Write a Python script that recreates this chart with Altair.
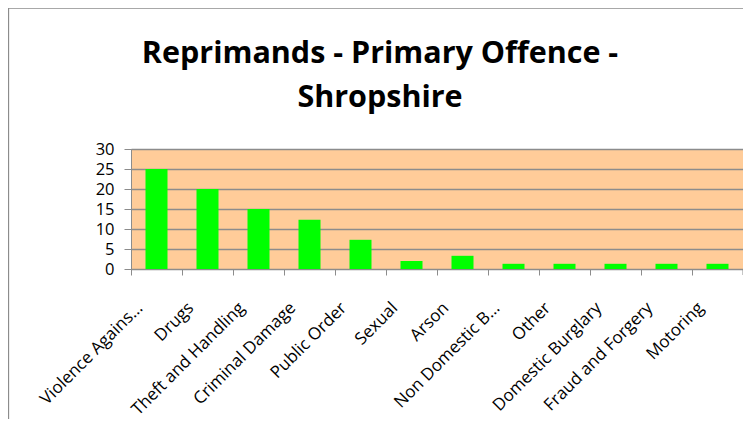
import altair as alt
import pandas as pd

categories = ["Violence Agains…", "Drugs", "Theft and Handling", "Criminal Damage",
              "Public Order", "Sexual", "Arson", "Non Domestic B…", "Other",
              "Domestic Burglary", "Fraud and Forgery", "Motoring"]
values = [25.0, 20.0, 15.0, 12.3, 7.3, 2.0, 3.3, 1.3, 1.3, 1.3, 1.3, 1.3]
y_ticks = [0, 5, 10, 15, 20, 25, 30]
title_lines = ["Reprimands - Primary Offence -", "Shropshire"]

df = pd.DataFrame({"offence": categories, "value": values})
one = pd.DataFrame({"k": [0]})

W, H = 612, 120

bars = alt.Chart(df).mark_bar(color="#00FF00", size=22).encode(
    x=alt.X("offence:N", sort=categories,
            scale=alt.Scale(paddingInner=0, paddingOuter=0),
            axis=alt.Axis(title=None, labelAngle=-45, labelAlign="right",
                          labelBaseline="middle", tickBand="extent",
                          labelPadding=30, labelOffset=-17)),
    y=alt.Y("value:Q", scale=alt.Scale(domain=[0, 30], nice=False),
            axis=alt.Axis(title=None, values=y_ticks, grid=True)),
)

border = alt.Chart(one).mark_rect(fillOpacity=0, stroke="#8c8c8c", strokeWidth=1.5).encode(
    x=alt.value(-122.6), x2=alt.value(W + 200),
    y=alt.value(-141.0), y2=alt.value(H + 300),
)

end_tick = alt.Chart(one).mark_rule(color="#8c8c8c", strokeWidth=1).encode(
    x=alt.value(W), y=alt.value(H), y2=alt.value(H + 6),
)

title = alt.Chart(one).mark_text(
    font="Open Sans", fontSize=30.5, fontWeight="bold", color="#000000",
    align="center", baseline="alphabetic", lineHeight=44,
).encode(
    x=alt.value(249), y=alt.value(-86), text=alt.value(title_lines),
)

chart = alt.layer(bars, border, end_tick, title).properties(
    width=W, height=H,
    autosize=alt.AutoSizeParams(type="none"),
    padding={"left": 123, "top": 141, "right": 0, "bottom": 150},
    background="white",
).configure_view(
    fill="#FFCC99", stroke="#8c8c8c", strokeWidth=1,
).configure_axis(
    domainColor="#8c8c8c", tickColor="#8c8c8c", gridColor="#8c8c8c",
    labelColor="#000000", labelFont="Open Sans",
).configure_axisY(
    gridWidth=1.5, tickSize=7, labelPadding=10, labelFontSize=16.5, domainWidth=1,
).configure_axisX(
    tickSize=6, labelFontSize=17, grid=False,
)

chart.save("out.html", embed_options={"renderer": "svg", "actions": False})
